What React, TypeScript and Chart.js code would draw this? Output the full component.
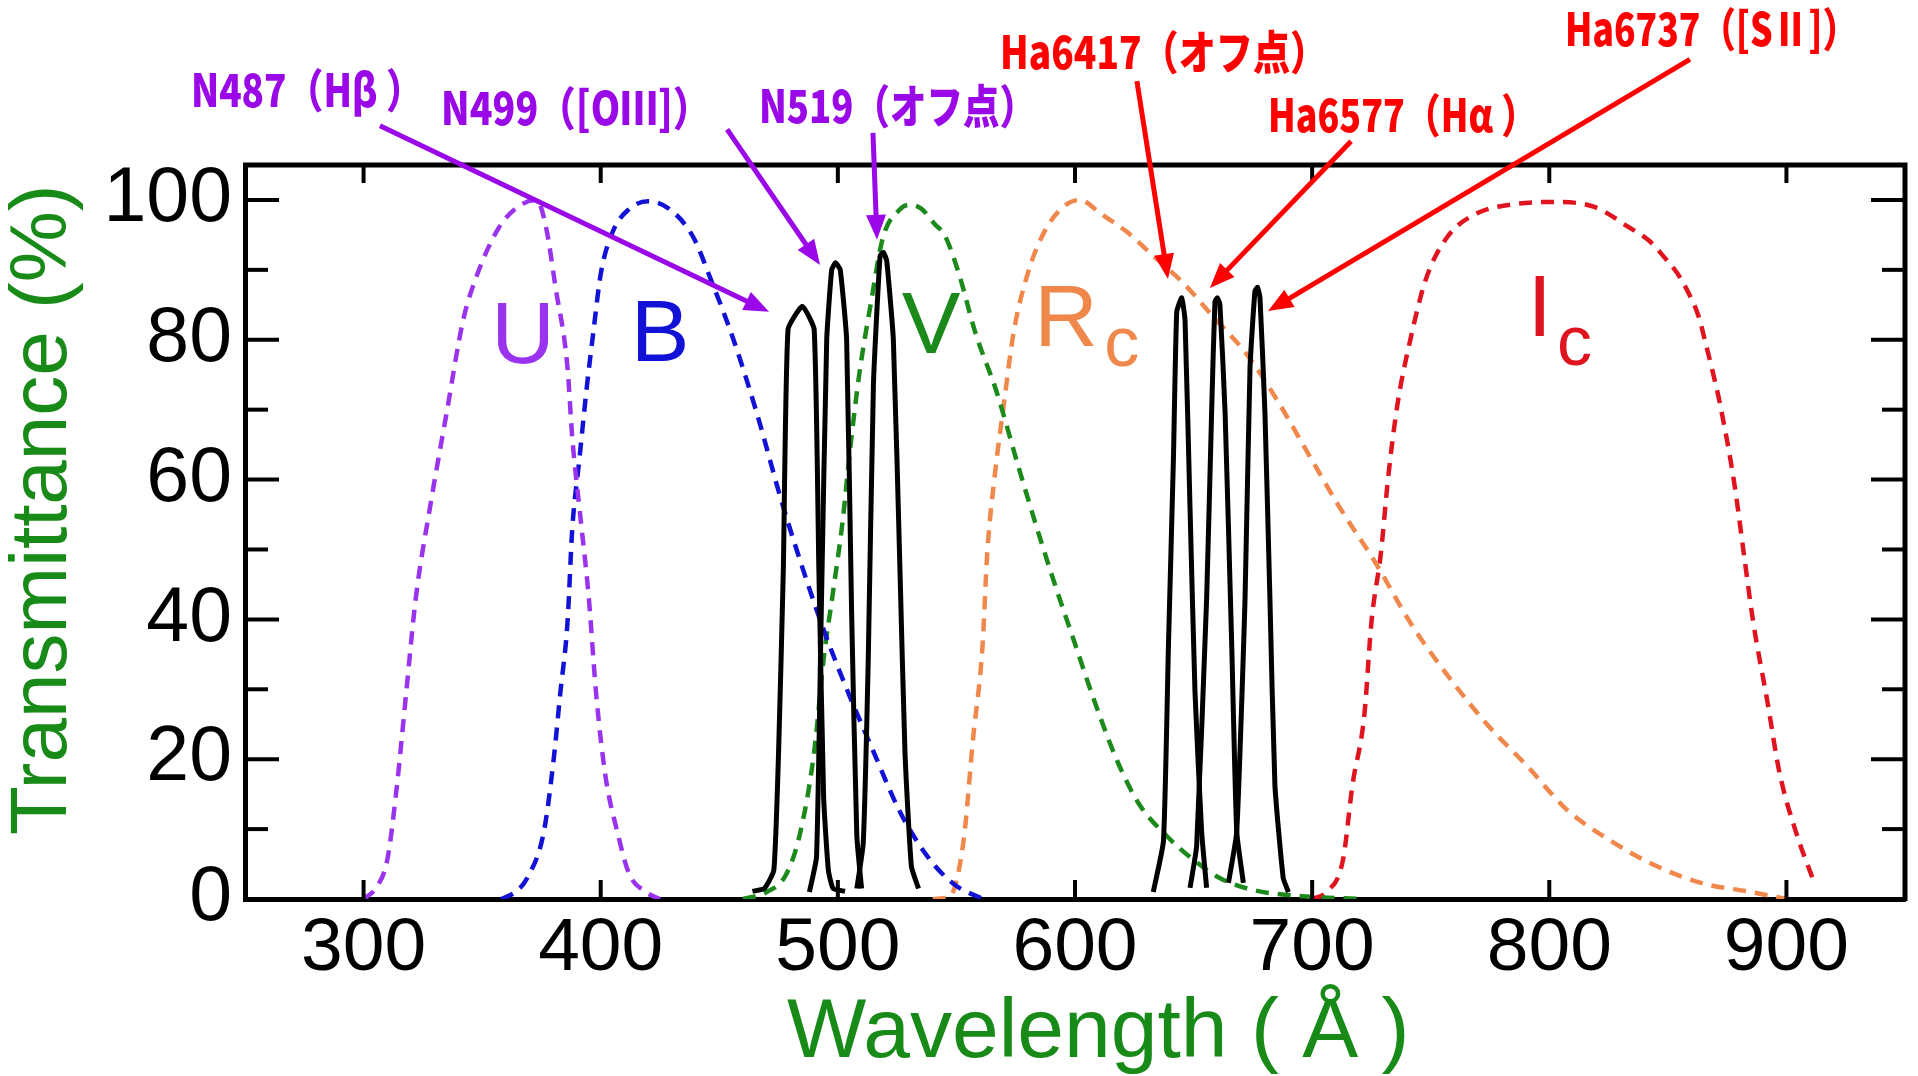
import React, { useEffect, useRef } from "react";
import { Chart, registerables } from "chart.js";

Chart.register(...registerables);

// ---- Broad-band filters (wavelength in nm as labelled, transmittance %) ----
const uWave = [300, 305, 310, 314, 318, 322, 328, 335, 342, 348, 357, 365, 373, 377, 381, 386, 388, 391, 395, 398, 402, 407, 412, 419, 425];
const uTrans = [0, 1.5, 5.6, 16, 29.6, 43, 56, 69.5, 82.8, 89.4, 96, 99, 100, 96, 87.4, 76, 66, 56, 43, 29.6, 17.6, 9.6, 3.6, 1, 0];

const bWave = [358, 364, 369, 376, 380, 383, 386, 388, 391, 394, 397, 400, 405, 412, 420, 429, 439, 446, 456, 466, 476, 487, 495, 505, 515, 526, 538, 549, 561];
const bTrans = [0, 1, 3, 9.6, 19.5, 29.6, 39.6, 52.9, 62.9, 72.8, 81.4, 89.4, 95.4, 98.7, 99.8, 98.7, 94.7, 89, 80, 69.3, 57.2, 45.4, 37.6, 29, 21.1, 12.6, 6, 2.1, 0];

const vWave = [460, 470, 478, 484, 490, 494, 498, 502, 505, 509, 514, 519, 526, 530, 535, 541, 545, 551, 558, 567, 576, 584, 592, 600, 608, 618, 627, 639, 650, 661, 675, 692, 720];
const vTrans = [0, 1, 3.4, 9.3, 21, 34.3, 44, 54, 63.8, 75, 85.4, 94.6, 98.6, 99.3, 98.8, 96.5, 95, 89.5, 81, 72.5, 62, 53, 44.5, 36.5, 28.5, 19.6, 13.6, 8.9, 5.6, 3, 1.3, 0.5, 0];

const rWave = [540, 547, 553, 557, 561, 563, 566, 570, 574, 580, 587, 595, 602, 611, 622, 633, 646, 658, 672, 685, 697, 712, 726, 742, 758, 774, 791, 807, 826, 844, 864, 885, 900];
const rTrans = [0, 0.3, 8.3, 22.9, 36.2, 49.5, 60.1, 70.8, 80.8, 89.4, 95.4, 99, 100, 98, 95.4, 92, 88, 83.4, 78.1, 71.5, 64.5, 55.8, 48.5, 39.2, 31.6, 24.9, 18.9, 12.9, 8.3, 4.9, 2.3, 1, 0];

const iWave = [700, 706, 713, 717, 722, 725, 729, 732, 736, 741, 748, 757, 769, 785, 802, 819, 834, 842, 848, 854, 859, 863, 866, 869, 872, 878, 882, 886, 892, 897, 904, 911];
const iTrans = [0, 1, 5.6, 16.3, 26.3, 39.6, 49.5, 60.1, 70.8, 79.4, 88.7, 94.7, 98, 99.4, 99.7, 99, 96, 94.2, 92, 89.5, 86.5, 83.3, 79.4, 75.3, 70.8, 59.5, 49.5, 39.6, 28.2, 18.2, 9.6, 3];

// ---- Narrow-band filters ----
const n487Wave = [464, 469, 473, 475, 477, 479, 485, 490, 492, 494, 496, 498, 503];
const n487Trans = [1.1, 1.5, 4.1, 21, 47, 81.5, 84.8, 81.5, 47, 14.6, 4.1, 1.5, 1.1];

const n499Wave = [488, 491, 493, 495.3, 497.4, 499, 501, 503.7, 505.8, 508, 510];
const n499Trans = [1, 6, 41, 80, 90, 91, 90, 80, 41, 9, 1.5];

const n519Wave = [508, 510.7, 512.8, 515, 517.8, 519.2, 520.6, 523.4, 526.2, 528.3, 531, 534];
const n519Trans = [1.5, 8, 34, 73.6, 92, 92.5, 91.3, 80, 47, 21, 4.7, 1.5];

const ha6417Wave = [633, 637.3, 639.4, 641.5, 642.9, 645, 646.4, 648.5, 650.6, 653.4, 655.5];
const ha6417Trans = [1, 8.3, 36.2, 62.9, 84, 86, 82.8, 56, 29.6, 9.6, 1.6];

const ha6577Wave = [648.5, 651.3, 655.5, 657.6, 659, 660, 661.1, 663.3, 666.1, 668.2, 671];
const ha6577Trans = [1.6, 7.6, 42.9, 69.5, 85.4, 86, 85.1, 69.5, 36.2, 9.6, 2.3];

const ha6737Wave = [664.7, 668.2, 671.7, 673.8, 675.9, 677, 678, 680.1, 682.2, 684.3, 687.8, 690];
const ha6737Trans = [2.3, 9.6, 42.9, 76, 87, 87.5, 86, 69.5, 42.9, 16.3, 3, 1];

// ---- Axes ----
const xTicks = [300, 400, 500, 600, 700, 800, 900];
const yTicks = [0, 20, 40, 60, 80, 100];
const yMinorTicks = [10, 30, 50, 70, 90];
const xTitle = "Wavelength ( Å )";
const yTitle = "Transmittance (%)";

// ---- Band labels (data coordinates) ----
const bandNames = ["U", "B", "V", "R", "I"];
const bandSubs = ["", "", "", "c", "c"];
const bandWave = [367.2, 425, 539.3, 596.2, 796];
const bandTrans = [76.7, 77, 78.1, 79.1, 80.6];
const bandSubWave = [0, 0, 0, 612.3, 803.3];
const bandSubTrans = [0, 0, 0, 76.2, 76.4];
const bandColors = ["#9933ee", "#1212d6", "#1b8a1b", "#f0884c", "#e0141e"];

// ---- Filter annotations ----
const noteTexts = ["N487（Hβ ）", "N499（[OⅢ]）", "N519（オフ点）", "Ha6417（オフ点）", "Ha6577（Hα ）", "Ha6737（[SⅡ]）"];
const noteTextWave = [227.2, 332.7, 466.7, 568.4, 681.4, 806.6];
const noteTextTrans = [113.3, 110.7, 111, 118.7, 109.7, 122];
const noteTextWidth = [232, 269, 277, 327, 269, 293];
const noteFromWave = [306.9, 453.3, 514.8, 626.1, 716.4, 859.3];
const noteFromTrans = [110.6, 110.1, 109.6, 117, 108.4, 120.1];
const noteToWave = [471.0, 492.5, 516.5, 639.2, 656.9, 681.4];
const noteToTrans = [84.0, 90.7, 94.3, 88.7, 87.4, 84.1];
const noteColors = ["#9a08e8", "#9a08e8", "#9a08e8", "#ff0000", "#ff0000", "#ff0000"];

const GREEN = "#188a18";
const NUM_FONT = "'Liberation Sans', Arial, sans-serif";

function series(label: string, waves: number[], trans: number[], color: string, dashed: boolean) {
  return {
    label,
    data: waves.map((w, i) => ({ x: w, y: trans[i] })),
    borderColor: color,
    backgroundColor: color,
    borderWidth: dashed ? 4.5 : 5,
    borderDash: dashed ? [13, 9] : [],
    pointRadius: 0,
    fill: false,
    cubicInterpolationMode: dashed ? "monotone" : "default",
    tension: dashed ? 0.4 : 0.15,
    borderJoinStyle: "round",
  };
}

const decorPlugin = {
  id: "decor",
  afterDraw(chart: any) {
    const { ctx, chartArea: a, scales } = chart;
    const xs = scales.x;
    const ys = scales.y;
    const px = (w: number) => xs.getPixelForValue(w);
    const py = (t: number) => ys.getPixelForValue(t);
    const seg = (x1: number, y1: number, x2: number, y2: number) => {
      ctx.beginPath();
      ctx.moveTo(x1, y1);
      ctx.lineTo(x2, y2);
      ctx.stroke();
    };
    ctx.save();
    ctx.strokeStyle = "#000";
    ctx.lineCap = "butt";
    ctx.lineWidth = 5;
    ctx.beginPath();
    ctx.moveTo(a.left - 2, a.top);
    ctx.lineTo(a.right, a.top);
    ctx.lineTo(a.right, a.bottom + 2);
    ctx.stroke();

    ctx.lineWidth = 4;
    yTicks.forEach((v) => {
      const y = py(v);
      seg(a.left, y, a.left + 34, y);
      seg(a.right, y, a.right - 34, y);
    });
    yMinorTicks.forEach((v) => {
      const y = py(v);
      seg(a.left, y, a.left + 23, y);
      seg(a.right, y, a.right - 23, y);
    });
    xTicks.forEach((v) => {
      const x = px(v);
      seg(x, a.bottom, x, a.bottom - 19);
      seg(x, a.top, x, a.top + 18);
    });

    // band labels
    ctx.textBaseline = "alphabetic";
    bandNames.forEach((name, i) => {
      ctx.fillStyle = bandColors[i];
      ctx.font = `88px ${NUM_FONT}`;
      ctx.textAlign = "center";
      ctx.fillText(name, px(bandWave[i]), py(bandTrans[i]));
      if (bandSubs[i]) {
        ctx.font = `70px ${NUM_FONT}`;
        ctx.textAlign = "left";
        ctx.fillText(bandSubs[i], px(bandSubWave[i]), py(bandSubTrans[i]));
      }
    });

    // annotations
    noteTexts.forEach((text, i) => {
      const color = noteColors[i];
      ctx.fillStyle = color;
      ctx.strokeStyle = color;
      ctx.font = `900 46px "Noto Sans CJK JP", sans-serif`;
      ctx.textAlign = "left";
      const m = ctx.measureText(text).width;
      const sx = noteTextWidth[i] / m;
      ctx.save();
      ctx.translate(px(noteTextWave[i]), py(noteTextTrans[i]));
      ctx.scale(sx, 1);
      ctx.fillText(text, 0, 0);
      ctx.restore();

      const x1 = px(noteFromWave[i]);
      const y1 = py(noteFromTrans[i]);
      const x2 = px(noteToWave[i]);
      const y2 = py(noteToTrans[i]);
      const len = Math.hypot(x2 - x1, y2 - y1);
      const ux = (x2 - x1) / len;
      const uy = (y2 - y1) / len;
      const head = 25;
      const hw = 10;
      ctx.lineWidth = 5;
      seg(x1, y1, x2 - ux * head * 0.8, y2 - uy * head * 0.8);
      ctx.beginPath();
      ctx.moveTo(x2, y2);
      ctx.lineTo(x2 - ux * head - uy * hw, y2 - uy * head + ux * hw);
      ctx.lineTo(x2 - ux * head + uy * hw, y2 - uy * head - ux * hw);
      ctx.closePath();
      ctx.fill();
    });
    ctx.restore();
  },
};

export default function App() {
  const ref = useRef<HTMLCanvasElement | null>(null);
  useEffect(() => {
    if (!ref.current) return;
    const chart = new Chart(ref.current, {
      type: "line",
      data: {
        datasets: [
          series("N487", n487Wave, n487Trans, "#000000", false),
          series("N499", n499Wave, n499Trans, "#000000", false),
          series("N519", n519Wave, n519Trans, "#000000", false),
          series("Ha6417", ha6417Wave, ha6417Trans, "#000000", false),
          series("Ha6577", ha6577Wave, ha6577Trans, "#000000", false),
          series("Ha6737", ha6737Wave, ha6737Trans, "#000000", false),
          series("U", uWave, uTrans, bandColors[0], true),
          series("B", bWave, bTrans, bandColors[1], true),
          series("V", vWave, vTrans, bandColors[2], true),
          series("Rc", rWave, rTrans, bandColors[3], true),
          series("Ic", iWave, iTrans, bandColors[4], true),
        ] as any,
      },
      options: {
        animation: false,
        responsive: true,
        maintainAspectRatio: false,
        layout: { padding: { top: 165, right: 13, left: 0, bottom: 0 } },
        plugins: { legend: { display: false }, tooltip: { enabled: false } },
        scales: {
          x: {
            type: "linear",
            min: 250,
            max: 950,
            afterBuildTicks: (s: any) => {
              s.ticks = xTicks.map((v) => ({ value: v }));
            },
            afterFit: (s: any) => {
              s.height = 177;
            },
            grid: { display: false, drawTicks: false },
            border: { display: true, color: "#000", width: 5 },
            ticks: {
              color: "#000",
              font: { family: NUM_FONT, size: 75, lineHeight: 1.2 },
              padding: 5,
              maxRotation: 0,
              autoSkip: false,
            },
            title: {
              display: true,
              text: "  " + xTitle,
              color: GREEN,
              font: { family: NUM_FONT, size: 84, lineHeight: 1.0 },
              padding: { top: 0, bottom: 0 },
            },
          },
          y: {
            type: "linear",
            min: 0,
            max: 105,
            afterBuildTicks: (s: any) => {
              s.ticks = yTicks.map((v) => ({ value: v }));
            },
            afterFit: (s: any) => {
              s.width = 245;
            },
            grid: { display: false, drawTicks: false },
            border: { display: true, color: "#000", width: 5 },
            ticks: {
              color: "#000",
              font: { family: NUM_FONT, size: 77 },
              padding: 13,
              autoSkip: false,
            },
            title: {
              display: true,
              text: "  " + yTitle,
              color: GREEN,
              font: { family: NUM_FONT, size: 80, lineHeight: 1.1 },
              padding: { top: 0, bottom: 0 },
            },
          },
        },
      } as any,
      plugins: [decorPlugin],
    });
    return () => chart.destroy();
  }, []);
  return (
    <div style={{ position: "fixed", left: 0, top: 0, width: 1918, height: 1076, background: "#fff" }}>
      <canvas ref={ref} />
    </div>
  );
}
